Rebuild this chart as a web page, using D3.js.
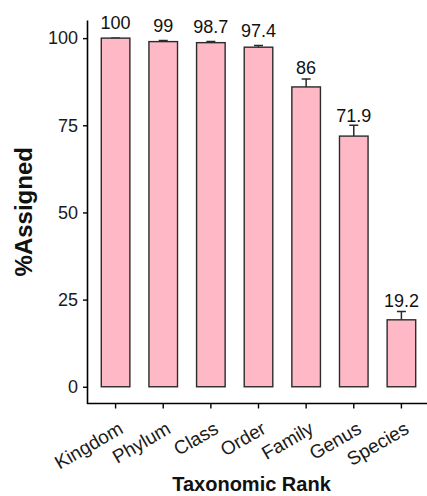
<!DOCTYPE html>
<html>
<head>
<meta charset="utf-8">
<script src="https://cdn.jsdelivr.net/npm/d3@7/dist/d3.min.js"></script>
<style>
  html, body { margin: 0; padding: 0; background: #fff; }
  svg { display: block; font-family: "Liberation Sans", Arial, Helvetica, sans-serif; }
</style>
</head>
<body>
<svg id="chart" width="427" height="496"></svg>
<script>
// Share of reads assigned at each taxonomic rank (mean with error)
const categories = ["Kingdom", "Phylum", "Class", "Order", "Family", "Genus", "Species"];
const percentAssigned = [100, 99, 98.7, 97.4, 86, 71.9, 19.2];
const errorUpper = [0, 0.3, 0.3, 0.5, 2.3, 3.1, 2.4];
const yTickValues = [0, 25, 50, 75, 100];

const rows = categories.map((c, i) => ({ rank: c, value: percentAssigned[i], err: errorUpper[i] }));

const svg = d3.select("#chart");
const panel = { left: 87, right: 430, top: 20, bottom: 403.5 };

const x = d3.scaleBand()
  .domain(categories)
  .range([panel.left, panel.right])
  .paddingInner(0.4)
  .paddingOuter(0.3);

const y = d3.scaleLinear()
  .domain([-4.8, 105.2])
  .range([panel.bottom, panel.top]);

const barFill = "#FFB9C6";
const ink = "#2b2b2b";

// error bars (upper whisker only)
const capHalf = 4.5;
const eb = svg.append("g").attr("class", "errorbars")
  .attr("stroke", ink).attr("stroke-width", 1.5).attr("fill", "none");
eb.selectAll("path").data(rows).join("path")
  .attr("d", d => {
    const cx = x(d.rank) + x.bandwidth() / 2;
    const y0 = y(d.value), y1 = y(d.value + d.err);
    return `M${cx},${y0}V${y1}M${cx - capHalf},${y1}H${cx + capHalf}`;
  });

// bars
svg.append("g").attr("class", "bars")
  .selectAll("rect").data(rows).join("rect")
  .attr("x", d => x(d.rank))
  .attr("width", x.bandwidth())
  .attr("y", d => y(d.value))
  .attr("height", d => y(0) - y(d.value))
  .attr("fill", barFill)
  .attr("stroke", ink)
  .attr("stroke-width", 1.4);

// value labels above each bar
svg.append("g").attr("class", "labels")
  .selectAll("text").data(rows).join("text")
  .attr("x", d => x(d.rank) + x.bandwidth() / 2)
  .attr("y", d => y(d.value + 2.6 + 0.45 * d.err))
  .attr("text-anchor", "middle")
  .attr("font-size", 18)
  .attr("fill", "#111")
  .text(d => d3.format("~r")(d.value));

// y axis
const yAxis = svg.append("g")
  .attr("transform", `translate(${panel.left},0)`)
  .call(d3.axisLeft(y).tickValues(yTickValues).tickSize(4).tickSizeOuter(0).tickPadding(5));
yAxis.select(".domain").attr("stroke", "#000").attr("stroke-width", 1.6);
yAxis.selectAll(".tick line").attr("stroke", "#000").attr("stroke-width", 1.4);
yAxis.selectAll(".tick text").attr("font-size", 18).attr("fill", "#1a1a1a")
  .attr("font-family", "Liberation Sans, Arial, sans-serif");

// x axis
const xAxis = svg.append("g")
  .attr("transform", `translate(0,${panel.bottom})`)
  .call(d3.axisBottom(x).tickSize(5).tickSizeOuter(0).tickFormat(""));
xAxis.select(".domain").attr("stroke", "#000").attr("stroke-width", 1.6)
  .attr("d", `M${panel.left},0H${panel.right}`);
xAxis.selectAll(".tick line").attr("stroke", "#000").attr("stroke-width", 1.4);

svg.append("g").attr("class", "x-tick-labels")
  .selectAll("text").data(categories).join("text")
  .attr("transform", d => `translate(${x(d) + x.bandwidth() / 2 + 2},${panel.bottom + 17}) rotate(-30)`)
  .attr("text-anchor", "end")
  .attr("dy", "0.72em")
  .attr("font-size", 19)
  .attr("fill", "#1a1a1a")
  .text(d => d);

// axis titles
svg.append("text")
  .attr("x", 251.5)
  .attr("y", 490.5)
  .attr("text-anchor", "middle")
  .attr("font-size", 20)
  .attr("font-weight", "bold")
  .attr("fill", "#111")
  .text("Taxonomic Rank");

svg.append("text")
  .attr("transform", `translate(32,${(panel.top + panel.bottom) / 2}) rotate(-90)`)
  .attr("text-anchor", "middle")
  .attr("font-size", 24)
  .attr("font-weight", "bold")
  .attr("fill", "#111")
  .text("%Assigned");
</script>
</body>
</html>
